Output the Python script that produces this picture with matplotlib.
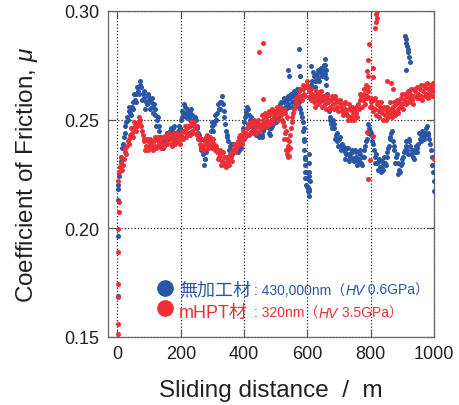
import numpy as np
import matplotlib
matplotlib.use("Agg")
import matplotlib.pyplot as plt

plt.rcParams['font.family'] = ['Liberation Sans', 'Noto Sans CJK JP']
plt.rcParams['mathtext.fontset'] = 'custom'
plt.rcParams['mathtext.rm'] = 'Liberation Sans'
plt.rcParams['mathtext.it'] = 'Liberation Sans:italic'

# 摩擦係数の測定値 (5 m 間隔、2.5 m ずらした2列)
distance = np.arange(5, 1001, 5)
distance_b = distance - 2.5

blue_mu = [
    0.224, 0.231, 0.237, 0.242, 0.247, 0.251, 0.254, 0.253, 0.256, 0.258,
    0.259, 0.262, 0.263, 0.266, 0.265, 0.262, 0.260, 0.258, 0.261, 0.259,
    0.258, 0.256, 0.257, 0.252, 0.250, 0.247, 0.242, 0.238, 0.240, 0.242,
    0.244, 0.241, 0.245, 0.243, 0.246, 0.244, 0.241, 0.244, 0.247, 0.250,
    0.254, 0.257, 0.253, 0.255, 0.251, 0.254, 0.252, 0.249, 0.251, 0.247,
    0.244, 0.241, 0.238, 0.234, 0.232, 0.235, 0.237, 0.242, 0.245, 0.247,
    0.248, 0.250, 0.253, 0.255, 0.258, 0.261, 0.254, 0.248, 0.243, 0.240,
    0.238, 0.236, 0.239, 0.236, 0.238, 0.235, 0.239, 0.237, 0.242, 0.249,
    0.254, 0.256, 0.252, 0.250, 0.247, 0.248, 0.245, 0.247, 0.244, 0.246,
    0.243, 0.245, 0.248, 0.250, 0.247, 0.244, 0.246, 0.249, 0.251, 0.249,
    0.252, 0.254, 0.257, 0.255, 0.258, 0.256, 0.259, 0.257, 0.260, 0.258,
    0.261, 0.259, 0.262, 0.259, 0.256, 0.253, 0.249, 0.240, 0.226, 0.219,
    0.224, 0.266, 0.268, 0.270, 0.268, 0.271, 0.269, 0.272, 0.270, 0.273,
    0.271, 0.266, 0.258, 0.251, 0.248, 0.250, 0.246, 0.243, 0.240, 0.241,
    0.238, 0.239, 0.236, 0.235, 0.237, 0.234, 0.233, 0.235, 0.232, 0.236,
    0.233, 0.231, 0.234, 0.230, 0.233, 0.236, 0.240, 0.244, 0.246, 0.243,
    0.240, 0.236, 0.233, 0.230, 0.232, 0.228, 0.231, 0.227, 0.230, 0.233,
    0.237, 0.241, 0.244, 0.240, 0.236, 0.233, 0.230, 0.227, 0.229, 0.232,
    0.235, 0.238, 0.236, 0.240, 0.238, 0.236, 0.233, 0.235, 0.237, 0.239,
    0.241, 0.243, 0.242, 0.244, 0.246, 0.243, 0.241, 0.236, 0.229, 0.222,
]

blue_mu_b = [
    0.220, 0.228, 0.233, 0.239, 0.244, 0.249, 0.250, 0.256, 0.252, 0.255,
    0.262, 0.258, 0.265, 0.262, 0.268, 0.259, 0.263, 0.255, 0.257, 0.262,
    0.255, 0.260, 0.253, 0.255, 0.247, 0.251, 0.245, 0.240, 0.237, 0.239,
    0.240, 0.244, 0.242, 0.246, 0.242, 0.247, 0.243, 0.240, 0.245, 0.246,
    0.251, 0.253, 0.256, 0.251, 0.253, 0.250, 0.255, 0.250, 0.247, 0.250,
    0.246, 0.243, 0.236, 0.237, 0.229, 0.232, 0.240, 0.239, 0.241, 0.249,
    0.245, 0.252, 0.250, 0.257, 0.255, 0.258, 0.257, 0.251, 0.245, 0.242,
    0.236, 0.239, 0.234, 0.239, 0.235, 0.238, 0.236, 0.240, 0.239, 0.246,
    0.251, 0.253, 0.255, 0.248, 0.251, 0.245, 0.248, 0.243, 0.247, 0.242,
    0.247, 0.242, 0.246, 0.247, 0.252, 0.246, 0.243, 0.247, 0.248, 0.253,
    0.250, 0.251, 0.255, 0.258, 0.254, 0.260, 0.255, 0.261, 0.256, 0.262,
    0.256, 0.263, 0.257, 0.264, 0.258, 0.255, 0.251, 0.245, 0.233, 0.223,
    0.217, 0.260, 0.265, 0.272, 0.265, 0.268, 0.273, 0.268, 0.274, 0.271,
    0.275, 0.269, 0.262, 0.254, 0.250, 0.246, 0.248, 0.241, 0.244, 0.238,
    0.242, 0.236, 0.238, 0.232, 0.234, 0.237, 0.231, 0.233, 0.236, 0.231,
    0.235, 0.229, 0.232, 0.236, 0.229, 0.233, 0.238, 0.241, 0.248, 0.245,
    0.244, 0.239, 0.230, 0.234, 0.227, 0.231, 0.226, 0.229, 0.233, 0.229,
    0.235, 0.238, 0.242, 0.245, 0.238, 0.230, 0.234, 0.225, 0.226, 0.230,
    0.233, 0.236, 0.240, 0.234, 0.241, 0.234, 0.236, 0.232, 0.238, 0.235,
    0.244, 0.240, 0.245, 0.241, 0.243, 0.247, 0.244, 0.239, 0.233, 0.226,
]

red_mu = [
    0.226, 0.230, 0.227, 0.232, 0.235, 0.238, 0.241, 0.243, 0.244, 0.246,
    0.247, 0.248, 0.249, 0.250, 0.247, 0.243, 0.240, 0.238, 0.240, 0.238,
    0.239, 0.237, 0.240, 0.238, 0.241, 0.239, 0.238, 0.241, 0.239, 0.242,
    0.240, 0.243, 0.241, 0.239, 0.242, 0.240, 0.243, 0.241, 0.240, 0.243,
    0.242, 0.245, 0.244, 0.246, 0.244, 0.247, 0.245, 0.248, 0.246, 0.244,
    0.241, 0.239, 0.241, 0.238, 0.240, 0.242, 0.239, 0.241, 0.238, 0.240,
    0.239, 0.237, 0.235, 0.233, 0.234, 0.231, 0.233, 0.230, 0.232, 0.231,
    0.234, 0.233, 0.236, 0.238, 0.237, 0.240, 0.242, 0.240, 0.243, 0.241,
    0.244, 0.246, 0.243, 0.247, 0.245, 0.248, 0.246, 0.249, 0.247, 0.245,
    0.248, 0.250, 0.248, 0.251, 0.249, 0.252, 0.250, 0.253, 0.251, 0.254,
    0.252, 0.255, 0.253, 0.250, 0.247, 0.244, 0.241, 0.238, 0.243, 0.249,
    0.253, 0.256, 0.258, 0.261, 0.263, 0.261, 0.264, 0.262, 0.265, 0.266,
    0.263, 0.259, 0.262, 0.258, 0.261, 0.259, 0.262, 0.258, 0.261, 0.259,
    0.257, 0.260, 0.258, 0.256, 0.259, 0.257, 0.260, 0.258, 0.256, 0.258,
    0.256, 0.254, 0.257, 0.255, 0.252, 0.255, 0.251, 0.254, 0.252, 0.255,
    0.253, 0.257, 0.259, 0.261, 0.259, 0.262, 0.260, 0.263, 0.260, 0.258,
    0.256, 0.259, 0.255, 0.257, 0.254, 0.256, 0.253, 0.255, 0.252, 0.254,
    0.251, 0.255, 0.253, 0.256, 0.254, 0.257, 0.255, 0.258, 0.260, 0.257,
    0.259, 0.261, 0.258, 0.260, 0.262, 0.259, 0.261, 0.263, 0.260, 0.262,
    0.264, 0.261, 0.263, 0.265, 0.262, 0.264, 0.262, 0.265, 0.263, 0.264,
]

red_mu_b = [
    0.222, 0.228, 0.233, 0.229, 0.237, 0.234, 0.240, 0.239, 0.246, 0.242,
    0.249, 0.245, 0.247, 0.251, 0.248, 0.245, 0.241, 0.236, 0.241, 0.236,
    0.241, 0.240, 0.236, 0.242, 0.237, 0.242, 0.240, 0.237, 0.242, 0.238,
    0.243, 0.239, 0.244, 0.242, 0.238, 0.244, 0.239, 0.244, 0.242, 0.239,
    0.245, 0.241, 0.247, 0.242, 0.247, 0.243, 0.249, 0.244, 0.249, 0.247,
    0.243, 0.242, 0.237, 0.241, 0.236, 0.239, 0.243, 0.237, 0.242, 0.237,
    0.241, 0.236, 0.238, 0.232, 0.236, 0.229, 0.235, 0.229, 0.228, 0.233,
    0.229, 0.235, 0.231, 0.239, 0.235, 0.238, 0.239, 0.243, 0.239, 0.245,
    0.242, 0.243, 0.248, 0.244, 0.249, 0.244, 0.250, 0.244, 0.250, 0.248,
    0.246, 0.252, 0.247, 0.253, 0.247, 0.254, 0.248, 0.255, 0.249, 0.252,
    0.256, 0.250, 0.256, 0.252, 0.249, 0.241, 0.245, 0.236, 0.240, 0.246,
    0.251, 0.255, 0.260, 0.257, 0.260, 0.264, 0.259, 0.266, 0.261, 0.268,
    0.265, 0.261, 0.264, 0.260, 0.256, 0.263, 0.257, 0.260, 0.263, 0.256,
    0.261, 0.255, 0.261, 0.259, 0.255, 0.261, 0.255, 0.261, 0.259, 0.254,
    0.259, 0.257, 0.252, 0.258, 0.253, 0.250, 0.257, 0.250, 0.256, 0.250,
    0.256, 0.251, 0.255, 0.262, 0.256, 0.264, 0.257, 0.261, 0.265, 0.256,
    0.260, 0.254, 0.260, 0.252, 0.258, 0.251, 0.258, 0.250, 0.256, 0.250,
    0.256, 0.252, 0.258, 0.251, 0.258, 0.252, 0.259, 0.253, 0.256, 0.262,
    0.255, 0.262, 0.257, 0.263, 0.258, 0.264, 0.257, 0.264, 0.261, 0.265,
    0.260, 0.266, 0.259, 0.266, 0.261, 0.267, 0.260, 0.266, 0.261, 0.267,
]

# 立ち上がり部分と外れ値
blue_extra_x = [1, 2, 3, 3, 540, 541, 574, 575, 576, 612, 656, 657, 658,
                588, 589, 590, 591, 592, 593, 594, 596, 603, 604, 605, 606,
                607, 606, 605, 604, 909, 911, 913, 915, 917, 919, 921, 923,
                910, 1000]
blue_extra_y = [0.169, 0.1965, 0.213, 0.218, 0.273, 0.270, 0.2825, 0.2745,
                0.270, 0.2745, 0.278, 0.275, 0.273,
                0.246, 0.241, 0.236, 0.232, 0.229, 0.226, 0.223, 0.220,
                0.219, 0.217, 0.215, 0.218, 0.222, 0.226, 0.230, 0.234,
                0.2885, 0.287, 0.2855, 0.284, 0.2825, 0.281, 0.279, 0.2765,
                0.273, 0.217]

red_extra_x = [1, 1, 2, 2, 3, 3, 4, 4, 448, 461, 461,
               786, 788, 791, 793, 796, 806, 808, 815, 817, 818, 820, 819,
               793, 797, 788, 806, 851, 865, 872,
               532, 536, 540, 543, 546, 520, 525, 530, 535, 1000]
red_extra_y = [0.1515, 0.156, 0.1685, 0.1745, 0.189, 0.1997, 0.2075, 0.212,
               0.281, 0.2853, 0.2595,
               0.266, 0.2725, 0.270, 0.2775, 0.285, 0.274, 0.2695, 0.292,
               0.295, 0.2985, 0.300, 0.297,
               0.2227, 0.2315, 0.2445, 0.2425, 0.268, 0.267, 0.264,
               0.236, 0.234, 0.233, 0.2335, 0.237, 0.254, 0.255, 0.253,
               0.251, 0.232]

blue = '#2a56a8'
red = '#ec2f37'
dark = '#231f20'

fig = plt.figure(figsize=(4.59, 4.06), dpi=100)
ax = fig.add_axes([108 / 459, 1 - 338 / 406, 326 / 459, 326 / 406])

for xs, ys in [(distance, blue_mu), (distance_b, blue_mu_b), (blue_extra_x, blue_extra_y)]:
    ax.scatter(xs, ys, s=13, color=blue, linewidths=0, zorder=3)
for xs, ys in [(distance, red_mu), (distance_b, red_mu_b), (red_extra_x, red_extra_y)]:
    ax.scatter(xs, ys, s=13, color=red, linewidths=0, zorder=4)

ax.set_xlim(-30, 1000)
ax.set_ylim(0.15, 0.30)
ax.set_xticks([0, 200, 400, 600, 800, 1000])
ax.set_yticks([0.15, 0.20, 0.25, 0.30])
ax.set_yticklabels(['0.15', '0.20', '0.25', '0.30'])
ax.tick_params(direction='in', length=5, width=0.8, color='#555555',
               labelsize=13, labelcolor=dark, top=True, right=True)
ax.tick_params(axis='x', pad=6)
ax.tick_params(axis='y', pad=6)
for sp in ax.spines.values():
    sp.set_color('#666666')
    sp.set_linewidth(0.9)

ax.grid(True, linestyle=(0, (1, 1.6)), color='#222222', linewidth=0.9)
ax.set_axisbelow(True)

ax.set_xlabel('Sliding distance  /  m', fontsize=17.5, color=dark, labelpad=12)
ax.set_ylabel('Coefficient of Friction, $\\mathit{\\mu}$', fontsize=17.5, color=dark)
ax.yaxis.set_label_coords(-0.21, 0.5)

# 凡例 (文字列を左から順に並べる)
renderer = fig.canvas.get_renderer()


def legend_row(y, cy, color, pieces):
    fig.add_artist(plt.Line2D([165 / 459], [1 - cy / 406], marker='o',
                              markersize=11, color=color, linestyle='none'))
    x = 179
    for s, size, style in pieces:
        t = fig.text(x / 459, 1 - y / 406, s, fontsize=size, style=style,
                     color=color, va='baseline')
        x = t.get_window_extent(renderer).x1
        if s.endswith('材'):
            x = 254


legend_row(295, 289, blue, [('無加工材', 13, 'normal'), (': 430,000nm（', 10, 'normal'),
                            ('HV', 10, 'italic'), (' 0.6GPa）', 10, 'normal')])
legend_row(318, 309, red, [('mHPT材', 13, 'normal'), (': 320nm（', 10, 'normal'),
                           ('HV', 10, 'italic'), (' 3.5GPa）', 10, 'normal')])

fig.savefig('out.png', dpi=100)
